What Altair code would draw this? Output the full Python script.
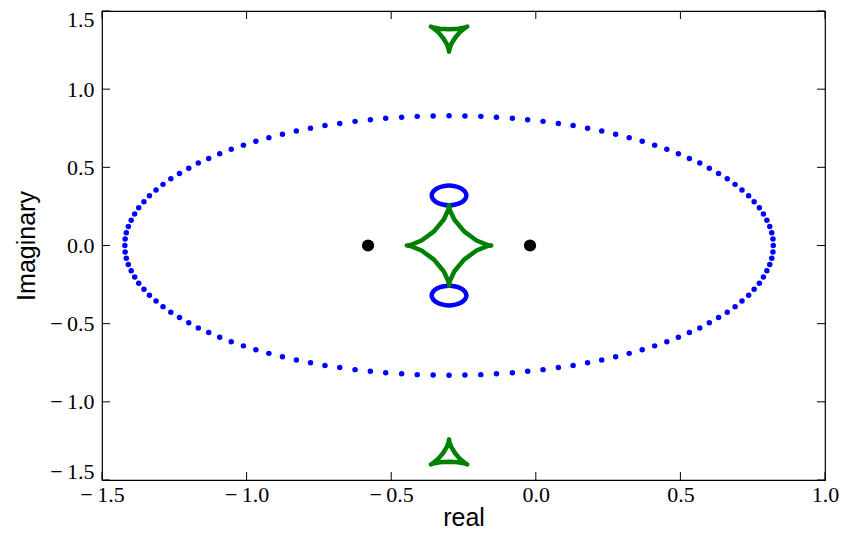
import altair as alt
import pandas as pd

XTICKS = [-1.5, -1.0, -0.5, 0.0, 0.5, 1.0]
YTICKS = [-1.5, -1.0, -0.5, 0.0, 0.5, 1.0, 1.5]

# big critical ellipse (dots), four quarters
BIG_X = [
    0.821, 0.820, 0.816, 0.809, 0.799, 0.787, 0.773, 0.755, 0.736, 0.713, 0.689, 0.662, 0.632, 0.600, 0.567, 0.531, 0.493,
    0.453, 0.411, 0.368, 0.323, 0.276, 0.228, 0.179, 0.129, 0.078, 0.025, -0.028, -0.081, -0.136, -0.190, -0.245, -0.300,
    -1.421, -1.420, -1.416, -1.409, -1.399, -1.387, -1.373, -1.355, -1.336, -1.313, -1.289, -1.262, -1.232, -1.200, -1.167, -1.131,
    -1.093, -1.053, -1.011, -0.968, -0.923, -0.876, -0.828, -0.779, -0.729, -0.678, -0.625, -0.572, -0.519, -0.464, -0.410, -0.355,
    -1.420, -1.416, -1.409, -1.399, -1.387, -1.373, -1.355, -1.336, -1.313, -1.289, -1.262, -1.232, -1.200, -1.167, -1.131,
    -1.093, -1.053, -1.011, -0.968, -0.923, -0.876, -0.828, -0.779, -0.729, -0.678, -0.625, -0.572, -0.519, -0.464, -0.410, -0.355, -0.300,
    0.820, 0.816, 0.809, 0.799, 0.787, 0.773, 0.755, 0.736, 0.713, 0.689, 0.662, 0.632, 0.600, 0.567, 0.531, 0.493,
    0.453, 0.411, 0.368, 0.323, 0.276, 0.228, 0.179, 0.129, 0.078, 0.025, -0.028, -0.081, -0.136, -0.190, -0.245,
]
BIG_Y = [
    0.000, 0.041, 0.081, 0.122, 0.162, 0.202, 0.241, 0.280, 0.318, 0.355, 0.391, 0.427, 0.461, 0.494, 0.527, 0.557, 0.587,
    0.615, 0.642, 0.667, 0.690, 0.712, 0.732, 0.750, 0.767, 0.781, 0.794, 0.805, 0.814, 0.821, 0.826, 0.829, 0.830,
    0.000, 0.041, 0.081, 0.122, 0.162, 0.202, 0.241, 0.280, 0.318, 0.355, 0.391, 0.427, 0.461, 0.494, 0.527, 0.557,
    0.587, 0.615, 0.642, 0.667, 0.690, 0.712, 0.732, 0.750, 0.767, 0.781, 0.794, 0.805, 0.814, 0.821, 0.826, 0.829,
    -0.041, -0.081, -0.122, -0.162, -0.202, -0.241, -0.280, -0.318, -0.355, -0.391, -0.427, -0.461, -0.494, -0.527, -0.557,
    -0.587, -0.615, -0.642, -0.667, -0.690, -0.712, -0.732, -0.750, -0.767, -0.781, -0.794, -0.805, -0.814, -0.821, -0.826, -0.829, -0.830,
    -0.041, -0.081, -0.122, -0.162, -0.202, -0.241, -0.280, -0.318, -0.355, -0.391, -0.427, -0.461, -0.494, -0.527, -0.557,
    -0.587, -0.615, -0.642, -0.667, -0.690, -0.712, -0.732, -0.750, -0.767, -0.781, -0.794, -0.805, -0.814, -0.821, -0.826, -0.829,
]

# small critical ovals
OVAL_X = [-0.240, -0.245, -0.258, -0.278, -0.300, -0.322, -0.342, -0.355, -0.360, -0.355, -0.342, -0.322, -0.300, -0.278, -0.258, -0.245]
OVAL_TOP_Y = [0.320, 0.345, 0.365, 0.378, 0.383, 0.378, 0.365, 0.345, 0.320, 0.295, 0.275, 0.262, 0.257, 0.262, 0.275, 0.295]
OVAL_BOT_Y = [-0.320, -0.345, -0.365, -0.378, -0.383, -0.378, -0.365, -0.345, -0.320, -0.295, -0.275, -0.262, -0.257, -0.262, -0.275, -0.295]

# central caustic (astroid-like)
CENT_X = [-0.154, -0.168, -0.205, -0.248, -0.282, -0.298, -0.300, -0.302, -0.318, -0.352, -0.395, -0.432,
          -0.446, -0.432, -0.395, -0.352, -0.318, -0.302, -0.300, -0.298, -0.282, -0.248, -0.205, -0.168]
CENT_Y = [0.000, 0.004, 0.032, 0.090, 0.166, 0.230, 0.258, 0.230, 0.166, 0.090, 0.032, 0.004,
          0.000, -0.004, -0.032, -0.090, -0.166, -0.230, -0.258, -0.230, -0.166, -0.090, -0.032, -0.004]

# planetary caustics (triangular)
TRI_X = [-0.300, -0.299, -0.293, -0.279, -0.261, -0.244, -0.237, -0.245, -0.268,
         -0.300, -0.332, -0.355, -0.363, -0.356, -0.339, -0.321, -0.307, -0.301]
TRI_TOP_Y = [1.240, 1.253, 1.286, 1.329, 1.368, 1.393, 1.400, 1.395, 1.387,
             1.383, 1.387, 1.395, 1.400, 1.393, 1.368, 1.329, 1.286, 1.253]
TRI_BOT_Y = [-1.240, -1.253, -1.286, -1.329, -1.368, -1.393, -1.400, -1.395, -1.387,
             -1.383, -1.387, -1.395, -1.400, -1.393, -1.368, -1.329, -1.286, -1.253]

# lens positions
LENS_X = [-0.58, -0.02]
LENS_Y = [0.0, 0.0]

W, H = 723, 469
BLUE, GREEN = "#0000ff", "#008000"
LABEL_EXPR = "(datum.value < 0 ? '\u2212\u2009' : '') + format(abs(datum.value), '.1f')"

xs = alt.Scale(domain=[-1.5, 1.0], nice=False, zero=False)
ys = alt.Scale(domain=[-1.5, 1.5], nice=False, zero=False)

Y_LABEL_OFFSET = {
    "condition": [
        {"test": "datum.value == 1.5", "value": 8},
        {"test": "datum.value == -1.5", "value": -9},
    ],
    "value": 0,
}


def enc(main=False):
    if main:
        return dict(
            x=alt.X("x:Q", scale=xs, title="real",
                    axis=alt.Axis(values=XTICKS, labelExpr=LABEL_EXPR, labelFlush=False,
                                  labelOverlap=False, labelPadding=4,
                                  titleY=45, titleBaseline="alphabetic")),
            y=alt.Y("y:Q", scale=ys, title="Imaginary",
                    axis=alt.Axis(values=YTICKS, labelExpr=LABEL_EXPR, labelFlush=False,
                                  labelOverlap=False, labelPadding=8,
                                  labelOffset=Y_LABEL_OFFSET,
                                  titleX=-68, titleY=H / 2,
                                  titleAngle=-90, titleBaseline="alphabetic", titleAlign="center")),
        )
    return dict(x=alt.X("x:Q", scale=xs), y=alt.Y("y:Q", scale=ys))


def df(xv, yv):
    return pd.DataFrame({"x": xv, "y": yv, "i": list(range(len(xv)))})


big = alt.Chart(df(BIG_X, BIG_Y)).mark_circle(color=BLUE, size=30, opacity=1).encode(**enc(True))


def closed(xv, yv, color, interp):
    return alt.Chart(df(xv, yv)).mark_line(
        color=color, strokeWidth=4.5, interpolate=interp, strokeJoin="round", strokeCap="round"
    ).encode(order="i:Q", **enc())


oval_t = closed(OVAL_X, OVAL_TOP_Y, BLUE, "cardinal-closed")
oval_b = closed(OVAL_X, OVAL_BOT_Y, BLUE, "cardinal-closed")
cent = closed(CENT_X, CENT_Y, GREEN, "linear-closed")
tri_t = closed(TRI_X, TRI_TOP_Y, GREEN, "linear-closed")
tri_b = closed(TRI_X, TRI_BOT_Y, GREEN, "linear-closed")

lens = alt.Chart(df(LENS_X, LENS_Y)).mark_circle(color="black", size=150, opacity=1).encode(**enc())

xt = pd.DataFrame({"x": XTICKS})
yt = pd.DataFrame({"y": YTICKS})
tick_b = alt.Chart(xt).mark_rule(color="black", strokeWidth=1).encode(
    x=alt.X("x:Q", scale=xs), y=alt.value(H), y2=alt.value(H - 8))
tick_t = alt.Chart(xt).mark_rule(color="black", strokeWidth=1).encode(
    x=alt.X("x:Q", scale=xs), y=alt.value(0), y2=alt.value(8))
tick_l = alt.Chart(yt).mark_rule(color="black", strokeWidth=1).encode(
    y=alt.Y("y:Q", scale=ys), x=alt.value(0), x2=alt.value(8))
tick_r = alt.Chart(yt).mark_rule(color="black", strokeWidth=1).encode(
    y=alt.Y("y:Q", scale=ys), x=alt.value(W), x2=alt.value(W - 8))

chart = alt.layer(
    big, oval_t, oval_b, cent, tri_t, tri_b, lens, tick_b, tick_t, tick_l, tick_r
).properties(
    width=W, height=H,
    autosize=alt.AutoSizeParams(type="none"),
    padding={"left": 94, "top": 3, "right": 14, "bottom": 51},
).configure_view(
    stroke="black", strokeWidth=1.2
).configure_axis(
    grid=False, ticks=False, tickSize=0, domain=False,
    labelFont="Liberation Serif", labelFontSize=22, labelColor="black",
    titleFont="Liberation Sans", titleFontSize=25, titleFontWeight="normal", titleColor="black",
)

chart.save("out.html", embed_options={"renderer": "svg", "actions": False})
